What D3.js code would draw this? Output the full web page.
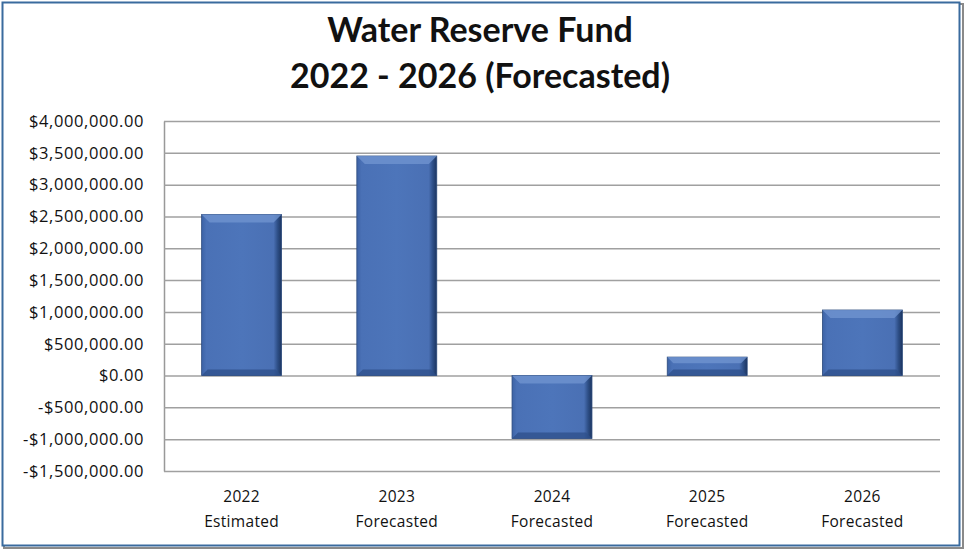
<!DOCTYPE html>
<html><head><meta charset="utf-8">
<script src="https://cdn.jsdelivr.net/npm/d3@7"></script>
<style>
html,body{margin:0;padding:0;background:#fff;}
svg{display:block;}
text{font-family:Lato,"Open Sans",sans-serif;fill:#111;}
</style></head>
<body>
<svg id="c" width="967" height="552"></svg>
<script>
const years = ["2022","2023","2024","2025","2026"];
const statuses = ["Estimated","Forecasted","Forecasted","Forecasted","Forecasted"];
const values = [2530000, 3450000, -990000, 290000, 1030000];
const tickValues = [4000000,3500000,3000000,2500000,2000000,1500000,1000000,500000,0,-500000,-1000000,-1500000];
const titleLines = ["Water Reserve Fund","2022 - 2026 (Forecasted)"];

const svg = d3.select("#c");
const W = 967, H = 552;
const m = {left:164, right:940, top:121, bottom:471};

// frame
svg.append("rect").attr("x",4).attr("y",4).attr("width",W-8).attr("height",H-8)
  .attr("fill","none").attr("stroke","#8a8a8a").attr("stroke-width",2);
svg.append("rect").attr("x",2.5).attr("y",2.5).attr("width",W-10).attr("height",H-9)
  .attr("fill","#fff").attr("stroke","#3a6b9e").attr("stroke-width",2);

// title
svg.selectAll("text.title").data(titleLines).join("text").attr("class","title")
  .attr("x",480).attr("y",(d,i)=>42+i*46).attr("text-anchor","middle")
  .style("font-size","34px").style("font-weight","bold").text(d=>d);

const x = d3.scaleBand().domain(years).range([m.left,m.right]).paddingInner(0.485).paddingOuter(0.2425);
const y = d3.scaleLinear().domain([-1500000,4000000]).range([m.bottom,m.top]);

// gridlines
const fmt = v => (v<0?"-":"") + "$" + d3.format(",.2f")(Math.abs(v));
const yAxis = d3.axisLeft(y).tickValues(tickValues).tickSize(-(m.right-m.left)).tickSizeOuter(0).tickPadding(20).tickFormat(fmt);
const gy = svg.append("g").attr("transform",`translate(${m.left},0)`).call(yAxis);
gy.select(".domain").attr("stroke","#999").attr("stroke-width",1.5);
gy.selectAll(".tick line").attr("stroke","#a0a0a0").attr("stroke-width",1.5);
gy.selectAll(".tick text").style("font-size","16.5px").style("letter-spacing","0.6px")
  .style("font-family","'Open Sans',sans-serif").attr("fill","#111");

// gradients
const defs = svg.append("defs");
const gh = defs.append("linearGradient").attr("id","gh").attr("x1","0").attr("x2","1").attr("y1","0").attr("y2","0");
[[0,"#3d63a6"],[0.06,"#4a71b6"],[0.5,"#4d75ba"],[0.9,"#4a70b4"],[0.95,"#2e4f87"],[1,"#1c3560"]].forEach(s=>gh.append("stop").attr("offset",s[0]).attr("stop-color",s[1]));

const bars = svg.append("g").selectAll("g").data(values.map((v,i)=>({v,yr:years[i]}))).join("g");
bars.append("rect")
  .attr("x",d=>x(d.yr)).attr("width",x.bandwidth())
  .attr("y",d=>y(Math.max(0,d.v))).attr("height",d=>Math.abs(y(d.v)-y(0)))
  .attr("fill","url(#gh)").attr("stroke","#2c4a7c").attr("stroke-width",0.8);
// top bevel highlight
bars.append("path").attr("d",d=>{
  const x0=x(d.yr), x1=x0+x.bandwidth(), t=y(Math.max(0,d.v)), b=y(Math.min(0,d.v));
  const k=Math.min(8,(b-t)/3);
  return `M${x0},${t}L${x1},${t}L${x1-k},${t+k}L${x0+k},${t+k}Z`;
}).attr("fill","#6f94d0").attr("opacity",0.8);
// bottom bevel shadow
bars.append("path").attr("d",d=>{
  const x0=x(d.yr), x1=x0+x.bandwidth(), t=y(Math.max(0,d.v)), b=y(Math.min(0,d.v));
  const k=Math.min(6,(b-t)/3);
  return `M${x0},${b}L${x1},${b}L${x1-k},${b-k}L${x0+k},${b-k}Z`;
}).attr("fill","#2d4f8a").attr("opacity",0.75);

// category labels
const cat = svg.append("g").selectAll("text").data(years.map((yr,i)=>({yr,s:statuses[i]}))).join("text")
  .attr("x",d=>x(d.yr)+x.bandwidth()/2).attr("y",502).attr("text-anchor","middle")
  .style("font-size","15.5px").style("letter-spacing","0.3px").style("font-family","'Open Sans',sans-serif");
cat.append("tspan").attr("x",d=>x(d.yr)+x.bandwidth()/2).attr("dy",0).text(d=>d.yr);
cat.append("tspan").attr("x",d=>x(d.yr)+x.bandwidth()/2).attr("dy",25).text(d=>d.s);
</script>
</body></html>
